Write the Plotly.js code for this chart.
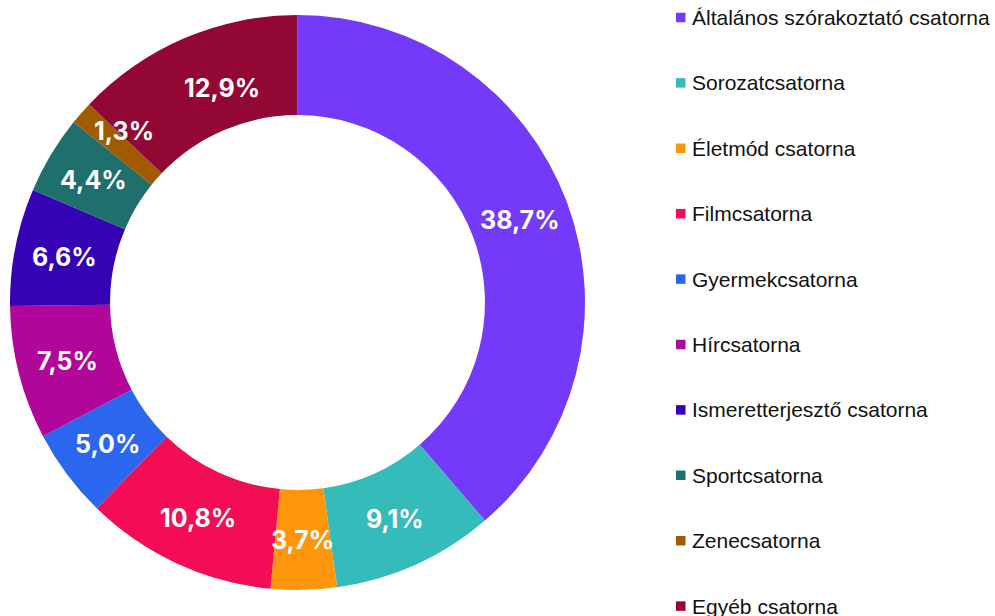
<!DOCTYPE html>
<html>
<head>
<meta charset="utf-8">
<script src="https://cdn.plot.ly/plotly-3.0.1.min.js"></script>
<style>html,body{margin:0;padding:0;background:#fff;}#chart{width:995px;height:616px;}</style>
</head>
<body>
<div id="chart"></div>
<script>
const categories = ["Általános szórakoztató csatorna","Sorozatcsatorna","Életmód csatorna","Filmcsatorna","Gyermekcsatorna","Hírcsatorna","Ismeretterjesztő csatorna","Sportcsatorna","Zenecsatorna","Egyéb csatorna"];
const values = [38.7, 9.1, 3.7, 10.8, 5.0, 7.5, 6.6, 4.4, 1.3, 12.9];
const colors = ["#733AF9","#35BBBA","#FF950A","#F20D55","#2A67EE","#B0069A","#3602B5","#1F6F6C","#A05B00","#930734"];

// style settings (not data)
const W = 995, H = 616;
const pieCx = 297.5, pieCy = 302.5, pieR = 287.5, holeFrac = 0.652;
const labelNudge = {"Zenecsatorna":[5,-15.5], "Egyéb csatorna":[18.5,3.5]};
const legendX = 676, legendTop = 17.5, legendStep = 65.4, sq = 9.5;

const total = values.reduce((a,b)=>a+b,0);
const annotations = [];
let cum = 0;
const rMid = pieR * (1 + holeFrac) / 2;
values.forEach((v,i)=>{
  const mid = (cum + v/2) / total;
  cum += v;
  const th = 2*Math.PI*mid;
  const px = pieCx + rMid*Math.sin(th);
  const py = pieCy - rMid*Math.cos(th);
  const nd = labelNudge[categories[i]] || [0,0];
  annotations.push({
    x: px/W, y: 1 - py/H, xref:'paper', yref:'paper',
    xanchor:'center', yanchor:'middle', showarrow:false,
    xshift: nd[0], yshift: -nd[1],
    text: v.toFixed(1).replace('.', ',') + '%',
    font:{family:'Inter, "Noto Sans", sans-serif', size:25, color:'#ffffff', weight:700}
  });
});

const shapes = [];
categories.forEach((c,i)=>{
  const cy = legendTop + legendStep*i;
  shapes.push({type:'rect', xref:'paper', yref:'paper',
    x0: legendX/W, x1: (legendX+sq)/W, y0: 1-(cy+sq/2)/H, y1: 1-(cy-sq/2)/H,
    fillcolor: colors[i], line:{width:0}});
  annotations.push({
    x: (legendX+sq+4.5)/W, y: 1 - cy/H, xref:'paper', yref:'paper',
    xanchor:'left', yanchor:'middle', showarrow:false, text:c,
    font:{family:'"Liberation Sans", Arial, sans-serif', size:21, color:'#111111'}
  });
});

const trace = {
  type:'pie', labels:categories, values:values, sort:false,
  direction:'clockwise', rotation:0, hole:holeFrac,
  marker:{colors:colors, line:{width:0}},
  textinfo:'none', hoverinfo:'label+percent', showlegend:false,
  domain:{x:[(pieCx-pieR)/W,(pieCx+pieR)/W], y:[1-(pieCy+pieR)/H, 1-(pieCy-pieR)/H]}
};

Plotly.newPlot('chart',[trace],{
  width:W, height:H, margin:{l:0,r:0,t:0,b:0},
  paper_bgcolor:'#ffffff', plot_bgcolor:'#ffffff', showlegend:false,
  annotations:annotations, shapes:shapes
},{displayModeBar:false, staticPlot:true});
</script>
</body>
</html>
